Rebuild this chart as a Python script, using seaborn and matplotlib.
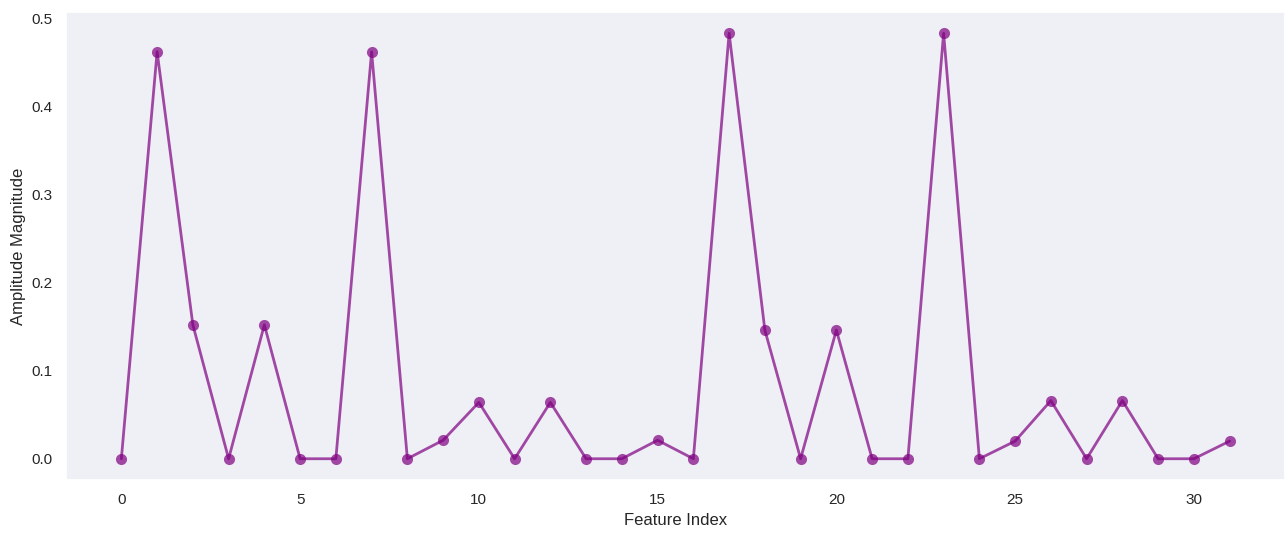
import numpy as np
import pandas as pd
import matplotlib
matplotlib.use("Agg")
import matplotlib.pyplot as plt
import seaborn as sns

feature_index = list(range(32))
amplitude = [0.0, 0.462, 0.152, 0.0, 0.152, 0.0, 0.0, 0.462,
             0.0, 0.021, 0.064, 0.0, 0.064, 0.0, 0.0, 0.021,
             0.0, 0.483, 0.146, 0.0, 0.146, 0.0, 0.0, 0.483,
             0.0, 0.020, 0.066, 0.0, 0.066, 0.0, 0.0, 0.020]

sns.set_theme(style="dark", rc={"axes.facecolor": "#eef0f6"})
plt.rcParams['font.family'] = ['Liberation Sans', 'DejaVu Sans']

df = pd.DataFrame({"Feature Index": feature_index, "Amplitude Magnitude": amplitude})

fig, ax = plt.subplots(figsize=(12.88, 5.33), dpi=100)
sns.lineplot(data=df, x="Feature Index", y="Amplitude Magnitude", ax=ax,
             color="purple", alpha=0.7, marker="o", markersize=8, linewidth=2,
             markeredgewidth=0)
ax.set_xlabel("Feature Index", fontsize=12)
ax.set_ylabel("Amplitude Magnitude", fontsize=12)
ax.tick_params(labelsize=11)
ax.grid(False)

plt.subplots_adjust(left=0.0512, right=0.9977, top=0.9775, bottom=0.0994)
plt.savefig("out.png", dpi=100)
